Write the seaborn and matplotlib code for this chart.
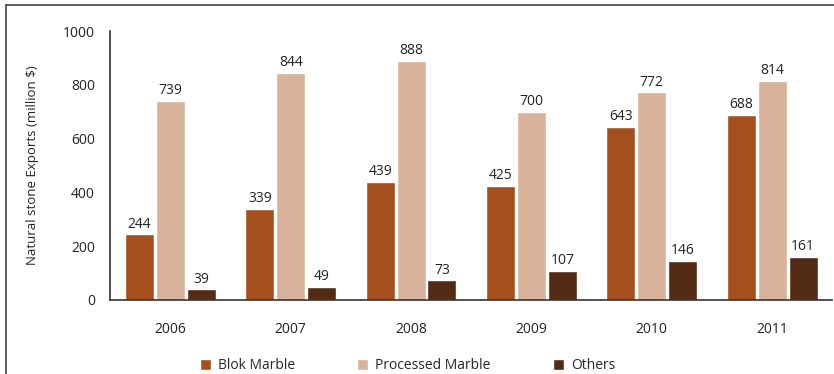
import numpy as np
import pandas as pd
import seaborn as sns
import matplotlib.pyplot as plt
from matplotlib.lines import Line2D

years = ['2006', '2007', '2008', '2009', '2010', '2011']
blok = [244, 339, 439, 425, 643, 688]
processed = [739, 844, 888, 700, 772, 814]
others = [39, 49, 73, 107, 146, 161]
series = ['Blok Marble', 'Processed Marble', 'Others']
colors = ['#A5501C', '#D9B29B', '#532A14']

df = pd.DataFrame({
    'year': years * 3,
    'value': blok + processed + others,
    'kind': [s for s in series for _ in years],
})

sns.set_style('white')
plt.rcParams['font.family'] = ['Open Sans', 'DejaVu Sans']

fig = plt.figure(figsize=(8.34, 3.74), dpi=100)
ax = fig.add_axes([0.132, 0.198, 0.866, 0.719])

sns.barplot(data=df, x='year', y='value', hue='kind', palette=colors, saturation=1,
            width=0.77, gap=0.06, ax=ax, legend=True)

for c in ax.containers:
    ax.bar_label(c, fmt='%d', padding=2, fontsize=10, color='#222222')

ax.set_ylim(0, 1000)
ax.set_xlim(-0.5, 5.5)
ax.set_yticks([0, 200, 400, 600, 800, 1000])
ax.tick_params(axis='both', length=0, labelsize=10, colors='#222222')
ax.tick_params(axis='x', pad=16)
ax.tick_params(axis='y', pad=11)
ax.set_xlabel('')
ax.set_ylabel('Natural stone Exports (million $)', fontsize=9.5, labelpad=17, color='#222222')
sns.despine(ax=ax, top=True, right=True)
ax.spines['left'].set_color('#333333')
ax.spines['bottom'].set_color('#333333')
ax.spines['left'].set_linewidth(1.2)
ax.spines['bottom'].set_linewidth(1.2)

ax.legend(loc='upper center', bbox_to_anchor=(0.412, -0.17), ncol=3, frameon=False,
          fontsize=10, handlelength=0.8, handleheight=0.8, handletextpad=0.5,
          columnspacing=4.5)

fig.add_artist(Line2D([6 / 834, 6 / 834], [0, 1 - 5 / 374], transform=fig.transFigure,
                      color='#444444', lw=1.2))
fig.add_artist(Line2D([6 / 834, 1], [1 - 5 / 374, 1 - 5 / 374], transform=fig.transFigure,
                      color='#444444', lw=1.2))

fig.savefig('out.png', dpi=100)
